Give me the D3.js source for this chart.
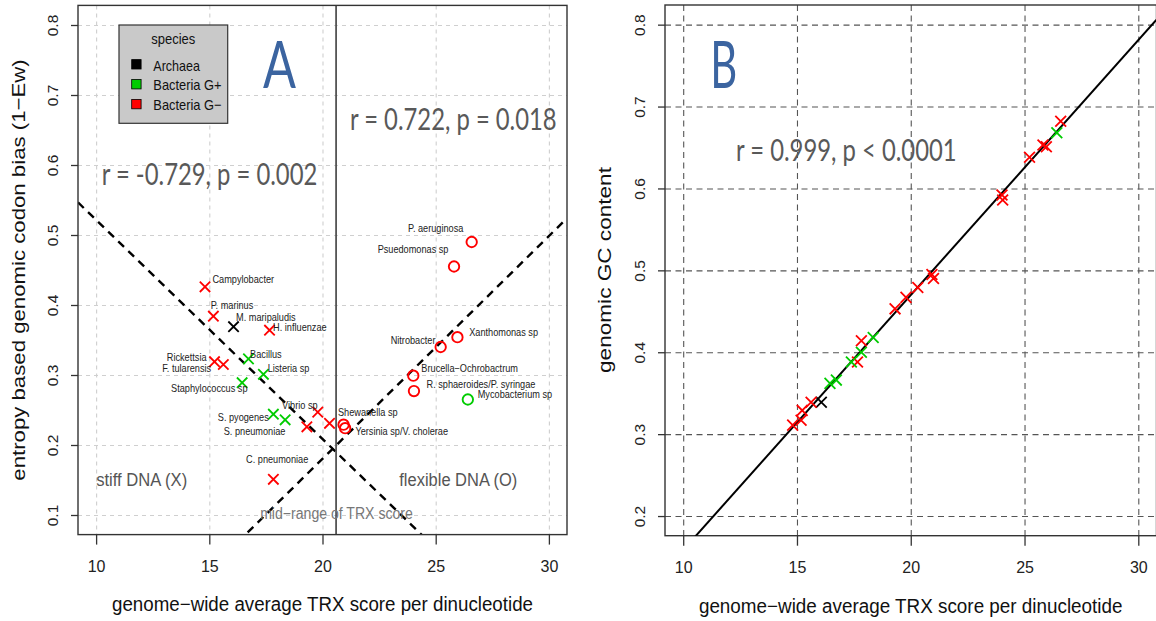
<!DOCTYPE html>
<html><head><meta charset="utf-8">
<script src="https://cdn.jsdelivr.net/npm/d3@7"></script>
<style>body{margin:0;background:#fff} svg{display:block}</style>
</head><body><svg id="c" width="1156" height="621"></svg>
<script>
// ---------------- data ----------------
const group = ["G-","G-","A","G-","G-","G-","G+","G+","G+","G+","G+","G-","G-","G-","G-","G-","G-","G-","G-","G-","G-","G-","G-","G+"];
const shape = ["X","X","X","X","X","X","X","X","X","X","X","X","X","X","X","O","O","O","O","O","O","O","O","O"];
const trx = [14.81,15.18,16.07,17.66,15.23,15.62,16.73,17.39,16.45,17.83,18.35,19.79,19.31,20.31,17.83,20.93,21.00,26.59,25.81,25.96,25.22,24.01,24.04,26.42];
const codonBias = [0.426,0.384,0.369,0.364,0.319,0.315,0.323,0.301,0.289,0.244,0.236,0.247,0.226,0.231,0.151,0.229,0.224,0.490,0.455,0.354,0.340,0.299,0.277,0.265];
const gcContent = [0.311,0.317,0.339,0.388,0.329,0.339,0.366,0.388,0.362,0.400,0.418,0.467,0.453,0.479,0.414,0.495,0.490,0.682,0.653,0.651,0.638,0.592,0.586,0.668];

const labelText = ["Campylobacter","P. marinus","M. maripaludis","H. influenzae","Rickettsia","F. tularensis","Bacillus","Listeria sp","Staphylococcus sp","S. pyogenes","S. pneumoniae","Vibrio sp","C. pneumoniae","Shewanella sp","Yersinia sp/V. cholerae","P. aeruginosa","Psuedomonas sp","Xanthomonas sp","Nitrobacter","Brucella−Ochrobactrum","R. sphaeroides/P. syringae","Mycobacterium sp"];
const labelTRX = [16.5,16.0,17.5,19.0,14.0,14.0,17.5,18.5,15.0,16.5,17.0,19.0,18.0,22.0,23.5,25.0,24.0,28.0,24.0,26.5,27.0,28.5];
const labelBias = [0.436,0.400,0.382,0.368,0.325,0.310,0.330,0.310,0.281,0.240,0.220,0.256,0.180,0.247,0.220,0.510,0.480,0.361,0.349,0.310,0.287,0.272];

const xTicks = [10,15,20,25,30];
const yTicksA = [0.1,0.2,0.3,0.4,0.5,0.6,0.7,0.8];
const yTicksB = [0.2,0.3,0.4,0.5,0.6,0.7,0.8];
const groupKeys = ["A","G+","G-"];
const groupNames = ["Archaea","Bacteria G+","Bacteria G−"];
const groupColors = ["#000000","#00cc00","#ff0000"];
const fitStiff = [-0.03128, 0.8343];   // slope, intercept
const fitFlex = [0.03182, -0.4561];
const fitGC = [0.03113, -0.1528];
const midRange = 20.6;
const statText = ["r = -0.729, p = 0.002","r = 0.722, p = 0.018","r = 0.999, p < 0.0001"];

// ---------------- helpers ----------------
const svg = d3.select("#c");
const color = g => groupColors[groupKeys.indexOf(g)];
const RF = "'Liberation Sans', Arial, Helvetica, sans-serif";
const OF = "Lato, 'Open Sans', sans-serif";
function fitW(sel, w){ sel.attr("textLength", w).attr("lengthAdjust","spacingAndGlyphs"); }
function fitF(sel, f){ sel.each(function(){ const l=this.getComputedTextLength(); this.setAttribute("textLength", l*f); this.setAttribute("lengthAdjust","spacingAndGlyphs"); }); }

function panel(cfg){
  const {x, y, yTicks, gridColor, gridDash, id} = cfg;
  const [x0,x1] = x.range(), [y0,y1] = y.range(); // y0 bottom
  const g = svg.append("g");
  g.append("clipPath").attr("id", id).append("rect")
    .attr("x", x0).attr("y", y1).attr("width", x1-x0).attr("height", y0-y1);
  // grid
  const gx = g.append("g").attr("transform",`translate(0,${y1})`)
    .call(d3.axisBottom(x).tickValues(xTicks).tickSize(y0-y1).tickFormat(""));
  const gy = g.append("g").attr("transform",`translate(${x0},0)`)
    .call(d3.axisRight(y).tickValues(yTicks).tickSize(x1-x0).tickFormat(""));
  [gx,gy].forEach(s=>{ s.select(".domain").remove();
    s.selectAll("line").attr("stroke",gridColor).attr("stroke-width",1.1).attr("stroke-dasharray",gridDash); });
  // axes
  const ax = g.append("g").attr("transform",`translate(0,${y0})`)
    .call(d3.axisBottom(x).tickValues(xTicks).tickSize(10).tickFormat(d3.format("d")));
  ax.select(".domain").remove();
  ax.selectAll("line").attr("stroke","#333").attr("stroke-width",1.3);
  ax.selectAll("text").attr("y",37.5).attr("dy",null).attr("fill","#222")
    .style("font-family",RF).style("font-size","16px");
  const ay = g.append("g").attr("transform",`translate(${x0},0)`)
    .call(d3.axisLeft(y).tickValues(yTicks).tickSize(7).tickFormat(d3.format(".1f")));
  ay.select(".domain").remove();
  ay.selectAll("line").attr("stroke","#333").attr("stroke-width",1.3);
  ay.selectAll("text").attr("x",0).attr("y",-25.5).attr("dy",null)
    .attr("transform","rotate(-90)").attr("text-anchor","middle")
    .attr("dominant-baseline","central").attr("fill","#222")
    .style("font-family",RF).style("font-size","15.5px");
  return g;
}
function drawBox(g, x, y){
  const [x0,x1] = x.range(), [y0,y1] = y.range();
  g.append("rect").attr("x",x0).attr("y",y1).attr("width",x1-x0).attr("height",y0-y1)
    .attr("fill","none").attr("stroke","#333").attr("stroke-width",1.4);
}
function fitLine(g, x, y, fit, id, style){
  const dom = x.domain();
  g.append("line").attr("clip-path",`url(#${id})`)
    .attr("x1",x(dom[0])).attr("y1",y(fit[0]*dom[0]+fit[1]))
    .attr("x2",x(dom[1])).attr("y2",y(fit[0]*dom[1]+fit[1]))
    .attr("stroke","#000").attr("stroke-width",style.w).attr("stroke-dasharray",style.dash||null);
}
function markers(g, xs, ys, shapes, groups, s){
  const idx = d3.range(xs.length);
  g.selectAll(null).data(idx.filter(i=>shapes[i]==="X")).join("path")
    .attr("d",`M${-s},${-s}L${s},${s}M${-s},${s}L${s},${-s}`)
    .attr("transform",i=>`translate(${xs[i]},${ys[i]})`)
    .attr("stroke",i=>color(groups[i])).attr("stroke-width",1.8).attr("fill","none");
  g.selectAll(null).data(idx.filter(i=>shapes[i]==="O")).join("circle")
    .attr("cx",i=>xs[i]).attr("cy",i=>ys[i]).attr("r",5.2)
    .attr("stroke",i=>color(groups[i])).attr("stroke-width",1.9).attr("fill","none");
}

// ---------------- panel A ----------------
const xA = d3.scaleLinear([9.2,30.8],[78,567]);
const yA = d3.scaleLinear([0.072,0.828],[534.6,5.4]);
const gA = panel({x:xA, y:yA, yTicks:yTicksA, gridColor:"#cfcfcf", gridDash:"4,4", id:"clipA"});

fitLine(gA, xA, yA, fitStiff, "clipA", {w:2.4, dash:"8,6"});
fitLine(gA, xA, yA, fitFlex, "clipA", {w:2.4, dash:"8,6"});
gA.append("line").attr("x1",xA(midRange)).attr("x2",xA(midRange)).attr("y1",yA.range()[1]).attr("y2",yA.range()[0])
  .attr("stroke","#4a4a4a").attr("stroke-width",1.7);
drawBox(gA, xA, yA);

markers(gA, trx.map(xA), codonBias.map(yA), shape, group, 5.2);

gA.selectAll(null).data(labelText).join("text")
  .attr("x",(d,i)=>xA(labelTRX[i])).attr("y",(d,i)=>yA(labelBias[i]))
  .attr("text-anchor","middle").attr("dominant-baseline","central")
  .attr("fill","#222").style("font-family",RF).style("font-size","10.2px")
  .text(d=>d).call(fitF, 0.9);

// region notes
gA.append("text").attr("x",141.7).attr("y",486).attr("text-anchor","middle").attr("fill","#555")
  .style("font-family",RF).style("font-size","18px").text("stiff DNA (X)").call(fitW, 91);
gA.append("text").attr("x",458.3).attr("y",486).attr("text-anchor","middle").attr("fill","#555")
  .style("font-family",RF).style("font-size","18px").text("flexible DNA (O)").call(fitW, 118);
gA.append("text").attr("x",336.5).attr("y",518.5).attr("text-anchor","middle").attr("fill","#777")
  .style("font-family",RF).style("font-size","16px").text("mid−range of TRX score").call(fitW, 152.7);

// stats
gA.append("text").attr("x",209.5).attr("y",185).attr("text-anchor","middle").attr("fill","#595959")
  .style("font-family",OF).style("font-size","30px").text(statText[0]).call(fitW, 215.6);
gA.append("text").attr("x",453.3).attr("y",130).attr("text-anchor","middle").attr("fill","#595959")
  .style("font-family",OF).style("font-size","30px").text(statText[1]).call(fitW, 206.7);
gA.append("text").attr("x",279.5).attr("y",88.3).attr("text-anchor","middle").attr("fill","#3b64a0")
  .style("font-family",OF).style("font-size","65px").text("A").call(fitW, 33);

// legend
const lg = gA.append("g");
lg.append("rect").attr("x",119).attr("y",25).attr("width",108.7).attr("height",98.3)
  .attr("fill","#c9c9c9").attr("stroke","#333").attr("stroke-width",1.2);
lg.append("text").attr("x",173.3).attr("y",44.3).attr("text-anchor","middle").attr("fill","#111")
  .style("font-family",RF).style("font-size","14px").text("species").call(fitW, 44);
lg.selectAll(null).data(groupNames).join("rect")
  .attr("x",131.7).attr("y",(d,i)=>59.6+i*19.9).attr("width",9.4).attr("height",9.4)
  .attr("fill",(d,i)=>groupColors[i]).attr("stroke","#000").attr("stroke-width",0.8);
lg.selectAll(null).data(groupNames).join("text")
  .attr("x",153.3).attr("y",(d,i)=>70.5+i*19.9).attr("fill","#111")
  .style("font-family",RF).style("font-size","15px").text(d=>d)
  .each(function(d,i){ d3.select(this).call(fitW, i===0?46.7:68.3); });

// axis titles A
gA.append("text").attr("x",322.5).attr("y",611).attr("text-anchor","middle").attr("fill","#111")
  .style("font-family",RF).style("font-size","20px").text("genome−wide average TRX score per dinucleotide").call(fitW, 421);
gA.append("text").attr("transform","translate(25,270) scale(0.82,1) rotate(-90)").attr("text-anchor","middle").attr("fill","#111")
  .style("font-family",RF).style("font-size","22.2px").text("entropy based genomic codon bias (1−Ew)");

// ---------------- panel B ----------------
const xB = d3.scaleLinear([9.2,30.8],[665,1156.5]);
const yB = d3.scaleLinear([0.176,0.824],[535.7,5]);
const gB = panel({x:xB, y:yB, yTicks:yTicksB, gridColor:"#555", gridDash:"6,4.5", id:"clipB"});
drawBox(gB, xB, yB);
fitLine(gB, xB, yB, fitGC, "clipB", {w:2});
markers(gB, trx.map(xB), gcContent.map(yB), trx.map(()=>"X"), group, 5.4);

gB.append("text").attr("x",846.3).attr("y",160.5).attr("text-anchor","middle").attr("fill","#595959")
  .style("font-family",OF).style("font-size","30px").text(statText[2]).call(fitW, 220.6);
gB.append("text").attr("x",723.8).attr("y",88.3).attr("text-anchor","middle").attr("fill","#3b64a0")
  .style("font-family",OF).style("font-size","65px").text("B").call(fitW, 27);
gB.append("text").attr("x",910.7).attr("y",613).attr("text-anchor","middle").attr("fill","#111")
  .style("font-family",RF).style("font-size","20px").text("genome−wide average TRX score per dinucleotide").call(fitW, 423.6);
gB.append("text").attr("transform","translate(611,270) scale(0.8,1) rotate(-90)").attr("text-anchor","middle").attr("fill","#111")
  .style("font-family",RF).style("font-size","22.6px").text("genomic GC content");
</script></body></html>
